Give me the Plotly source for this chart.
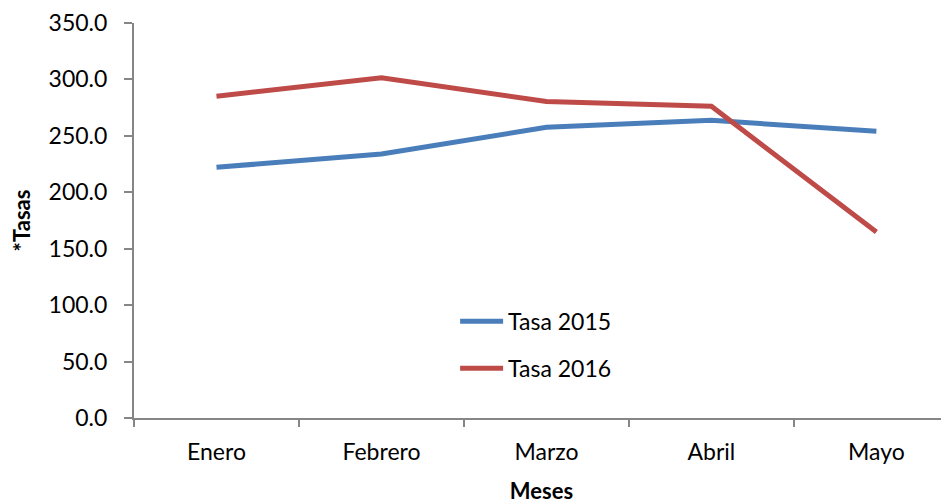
import plotly.graph_objects as go

meses = ["Enero", "Febrero", "Marzo", "Abril", "Mayo"]
tasa_2015 = [222.1, 234.0, 257.6, 263.8, 254.0]
tasa_2016 = [285.1, 301.4, 280.4, 276.2, 164.8]
y_ticks = [0, 50, 100, 150, 200, 250, 300, 350]

font_family = "Lato, 'Open Sans', sans-serif"

fig = go.Figure()
fig.add_trace(go.Scatter(x=meses, y=tasa_2015, mode="lines", name="Tasa 2015",
                         line=dict(color="#4A7EBB", width=5), legendgroup="a"))
fig.add_trace(go.Scatter(x=meses, y=tasa_2016, mode="lines", name="Tasa 2016",
                         line=dict(color="#BE4B48", width=5), legendgroup="b"))

fig.update_layout(
    width=949, height=500,
    margin=dict(l=126, r=8, t=15, b=90, autoexpand=False),
    plot_bgcolor="white", paper_bgcolor="white",
    font=dict(family=font_family, size=23, color="black"),
    showlegend=True,
    legend=dict(x=0.394, y=0.185, xanchor="left", yanchor="middle",
                bgcolor="rgba(0,0,0,0)", tracegroupgap=14, itemwidth=43,
                font=dict(size=23)),
    xaxis=dict(
        type="category", range=[-0.5, 4.44], showgrid=False, automargin=False,
        showline=True, linecolor="#868686", linewidth=2,
        ticks="outside", tickson="boundaries", ticklen=7, tickcolor="#868686", tickwidth=2,
        ticklabelstandoff=12,
        title=dict(text="<b>Meses</b>", standoff=20, font=dict(size=22)),
    ),
    yaxis=dict(
        range=[0, 350], tickvals=y_ticks, automargin=False,
        ticktext=[f"{v:.1f}" for v in y_ticks],
        showgrid=False, zeroline=False,
        showline=True, linecolor="#868686", linewidth=2,
        ticks="outside", ticklen=8, tickcolor="#868686", tickwidth=2,
        ticklabelstandoff=12,
        title=dict(text="<b>*Tasas</b>", standoff=12, font=dict(size=22)),
    ),
)

fig.write_html("out.html")
